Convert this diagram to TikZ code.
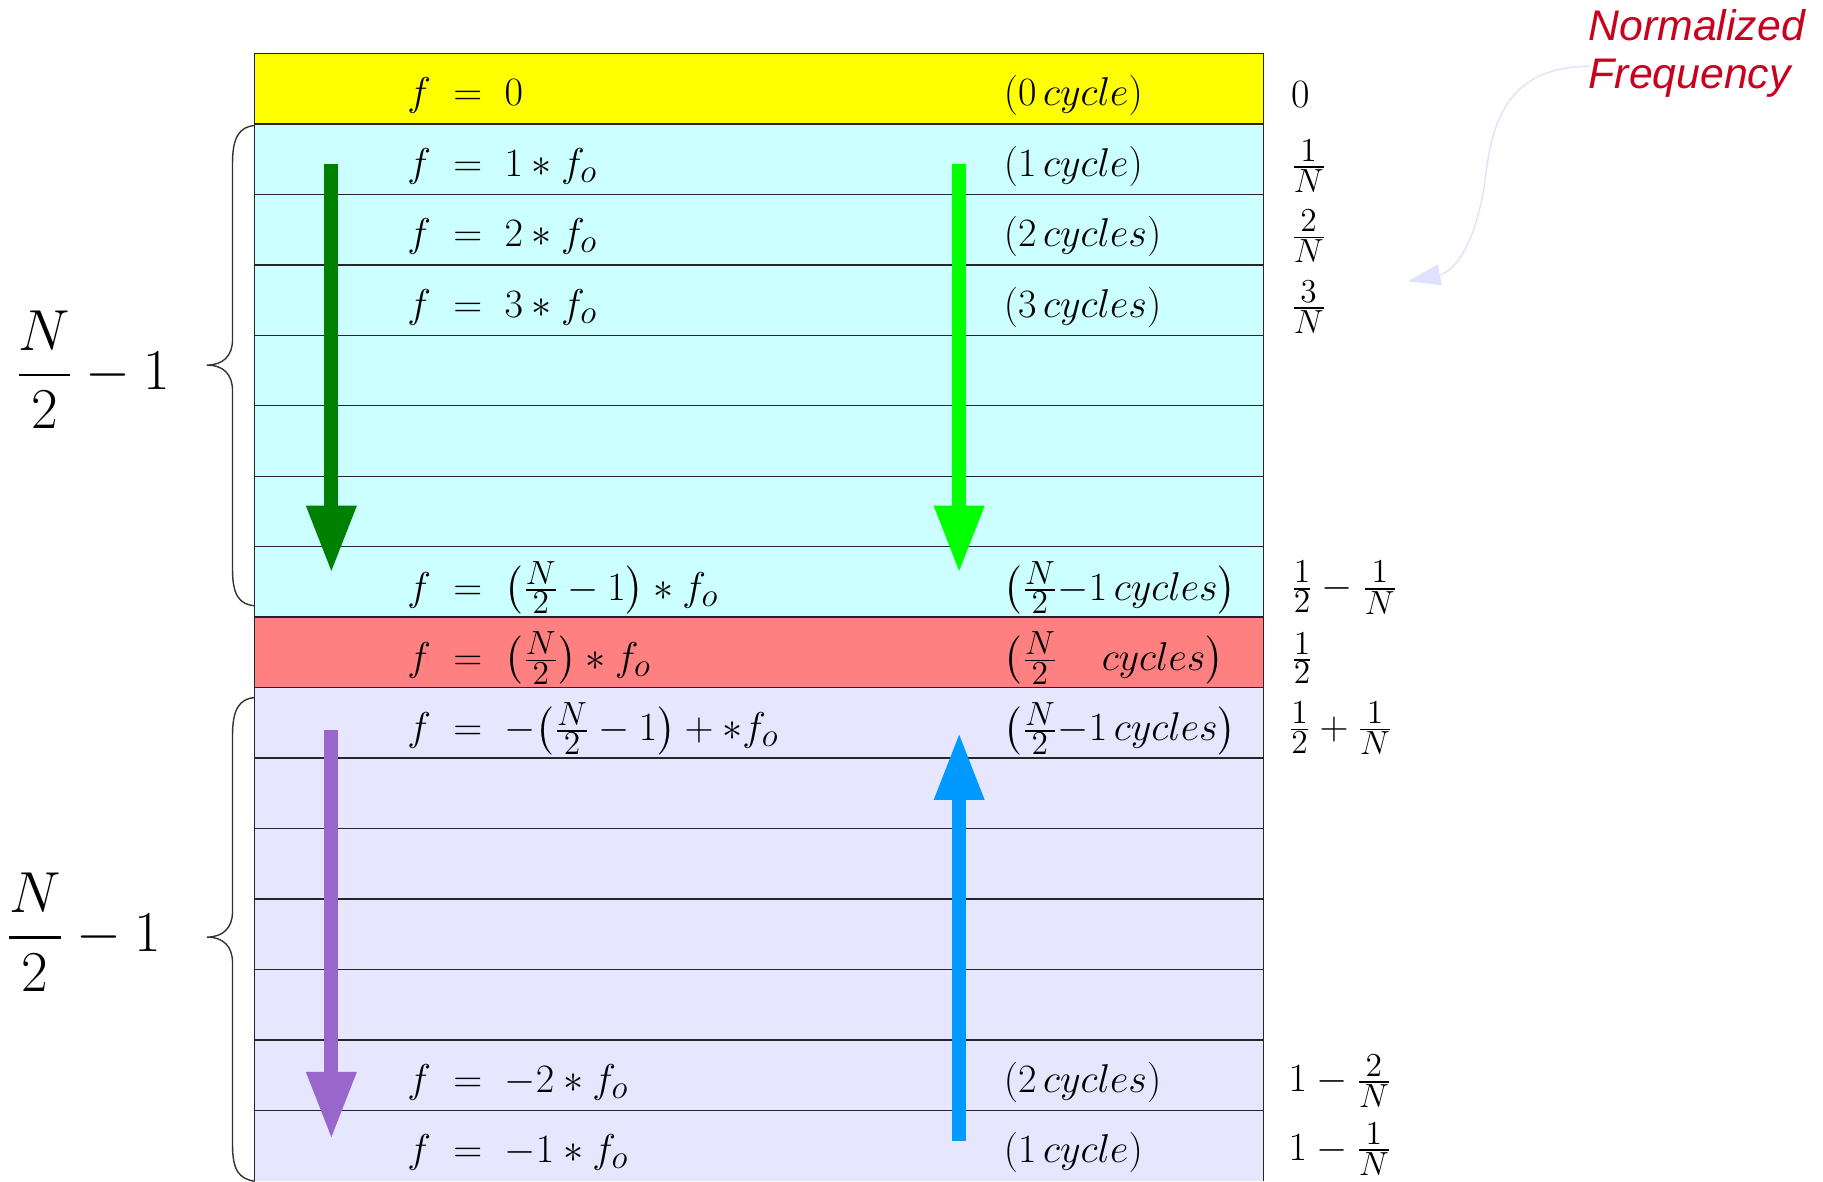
\documentclass[tikz,border=0pt]{standalone}
\usepackage{amsmath}
\usepackage{fontspec}
\newfontfamily\nfont{Liberation Sans}
\usetikzlibrary{arrows.meta,calc}
\definecolor{cyellow}{HTML}{FFFF00}
\definecolor{ccyan}{HTML}{CCFFFF}
\definecolor{csalmon}{HTML}{FF8080}
\definecolor{clav}{HTML}{E6E6FF}
\definecolor{cdgreen}{HTML}{008000}
\definecolor{cbgreen}{HTML}{00FF00}
\definecolor{cpurple}{HTML}{9966CC}
\definecolor{cblue}{HTML}{0099FF}
\definecolor{ctitle}{HTML}{C9001E}
\definecolor{carrowlav}{HTML}{E0E0FF}
\newcommand{\eqq}{\mkern5mu=\mkern5mu}
\begin{document}
\begin{tikzpicture}[x=0.5pt,y=-0.5pt,
  rowbox/.style={minimum width=434pt, minimum height=30.3pt, inner sep=0pt, outer sep=0pt},
  mtext/.style={font=\fontsize{19}{23}\selectfont, inner sep=0pt, anchor=west},
  bigm/.style={font=\fontsize{24}{28}\selectfont, inner sep=0pt},
  gridline/.style={draw=black!85, line width=0.6pt},
  bracestyle/.style={draw=black!80, line width=0.6pt},
  bigarrow/.style={line width=6pt, -{Triangle[length=29pt,width=20pt]}},
  titlearrow/.style={draw=carrowlav, line width=0.6pt, -{Triangle[length=14pt,width=9pt]}}
]
\useasboundingbox (0,0) rectangle (1568,1016);

% rows
\foreach \k/\c in {0/cyellow,1/ccyan,2/ccyan,3/ccyan,4/ccyan,5/ccyan,6/ccyan,7/ccyan,
  8/csalmon,9/clav,10/clav,11/clav,12/clav,13/clav,14/clav,15/clav}
  \node[rowbox, fill=\c] (r\k) at ({653},{76.3+60.6*\k}) {};

% grid lines
\draw[gridline] (r0.north west) -- (r0.north east);
\foreach \k in {0,...,14}
  \draw[gridline] (r\k.south west) -- (r\k.south east);
\draw[gridline] (r0.north west) -- (r15.south west);
\draw[gridline] (r0.north east) -- (r15.south east);

% left column
\node[mtext] (l0) at ($(r0.west)+(131,6)$) {$f\eqq0$};
\node[mtext] (l1) at ($(r1.west)+(131,6)$) {$f\eqq1*f_o$};
\node[mtext] (l2) at ($(r2.west)+(131,6)$) {$f\eqq2*f_o$};
\node[mtext] (l3) at ($(r3.west)+(131,6)$) {$f\eqq3*f_o$};
\node[mtext] (l7) at ($(r7.west)+(131,5)$) {$f\eqq\bigl(\tfrac{N}{2}-1\bigr)*f_o$};
\node[mtext] (l8) at ($(r8.west)+(131,5)$) {$f\eqq\bigl(\tfrac{N}{2}\bigr)*f_o$};
\node[mtext] (l9) at ($(r9.west)+(131,5)$) {$f\eqq{-}\bigl(\tfrac{N}{2}-1\bigr)+*f_o$};
\node[mtext] (l14) at ($(r14.west)+(131,6)$) {$f\eqq-2*f_o$};
\node[mtext] (l15) at ($(r15.west)+(131,6)$) {$f\eqq-1*f_o$};

% middle column
\node[mtext] (m0) at ($(r0.west)+(644,6)$) {$(0\,cycle)$};
\node[mtext] (m1) at ($(r1.west)+(644,6)$) {$(1\,cycle)$};
\node[mtext] (m2) at ($(r2.west)+(644,6)$) {$(2\,cycles)$};
\node[mtext] (m3) at ($(r3.west)+(644,6)$) {$(3\,cycles)$};
\node[mtext] (m7) at ($(r7.west)+(644,5)$) {$\bigl(\tfrac{N}{2}{-}1\,cycles\bigr)$};
\node[mtext] (m8) at ($(r8.west)+(644,5)$) {$\bigl(\tfrac{N}{2}\quad cycles\bigr)$};
\node[mtext] (m9) at ($(r9.west)+(644,5)$) {$\bigl(\tfrac{N}{2}{-}1\,cycles\bigr)$};
\node[mtext] (m14) at ($(r14.west)+(644,6)$) {$(2\,cycles)$};
\node[mtext] (m15) at ($(r15.west)+(644,6)$) {$(1\,cycle)$};

% right column
\node[mtext] (n0) at ($(r0.east)+(23,5)$) {$0$};
\node[mtext] (n1) at ($(r1.east)+(23,6)$) {$\tfrac{1}{N}$};
\node[mtext] (n2) at ($(r2.east)+(23,6)$) {$\tfrac{2}{N}$};
\node[mtext] (n3) at ($(r3.east)+(23,6)$) {$\tfrac{3}{N}$};
\node[mtext] (n7) at ($(r7.east)+(23,5)$) {$\tfrac{1}{2}-\tfrac{1}{N}$};
\node[mtext] (n8) at ($(r8.east)+(23,5)$) {$\tfrac{1}{2}$};
\node[mtext] (n9) at ($(r9.east)+(21,5)$) {$\tfrac{1}{2}+\tfrac{1}{N}$};
\node[mtext] (n14) at ($(r14.east)+(21,5)$) {$1-\tfrac{2}{N}$};
\node[mtext] (n15) at ($(r15.east)+(21,3)$) {$1-\tfrac{1}{N}$};

% big arrows
\coordinate (ga) at (285,141); \coordinate (gb) at (285,493);
\coordinate (ha) at (825,141); \coordinate (hb) at (825,493);
\coordinate (pa) at (285,628); \coordinate (pb) at (285,980);
\coordinate (ba) at (825,981); \coordinate (bb) at (825,630);
\draw[bigarrow, draw=cdgreen] (ga) -- (gb);
\draw[bigarrow, draw=cbgreen] (ha) -- (hb);
\draw[bigarrow, draw=cpurple] (pa) -- (pb);
\draw[bigarrow, draw=cblue] (ba) -- (bb);

% braces
\draw[bracestyle] (219,108) .. controls (206,109) and (200,118) .. (200,140) -- (200,292)
  .. controls (200,306) and (192,314) .. (178,314)
  .. controls (192,314) and (200,322) .. (200,336) -- (200,490)
  .. controls (200,512) and (206,520) .. (219,521);
\draw[bracestyle] (219,600) .. controls (206,601) and (200,610) .. (200,632) -- (200,784)
  .. controls (200,798) and (192,806) .. (178,806)
  .. controls (192,806) and (200,814) .. (200,828) -- (200,985)
  .. controls (200,1007) and (206,1014) .. (219,1016);

% brace labels
\node[bigm] (lu) at (80,318) {$\displaystyle\frac{N}{2}-1$};
\node[bigm] (ll) at (72,802) {$\displaystyle\frac{N}{2}-1$};

% title
\node[font=\nfont\itshape\fontsize{18.4}{20.5}\selectfont, text=ctitle, align=left,
  inner sep=0pt, anchor=west] (nf) at (1366,46) {Normalized\\Frequency};
\draw[titlearrow] ($(nf.west)+(2,11)$) .. controls (1300,57) and (1284,100) .. (1278,150)
  .. controls (1270,212) and (1250,234) .. (1211,242);
\end{tikzpicture}
\end{document}
